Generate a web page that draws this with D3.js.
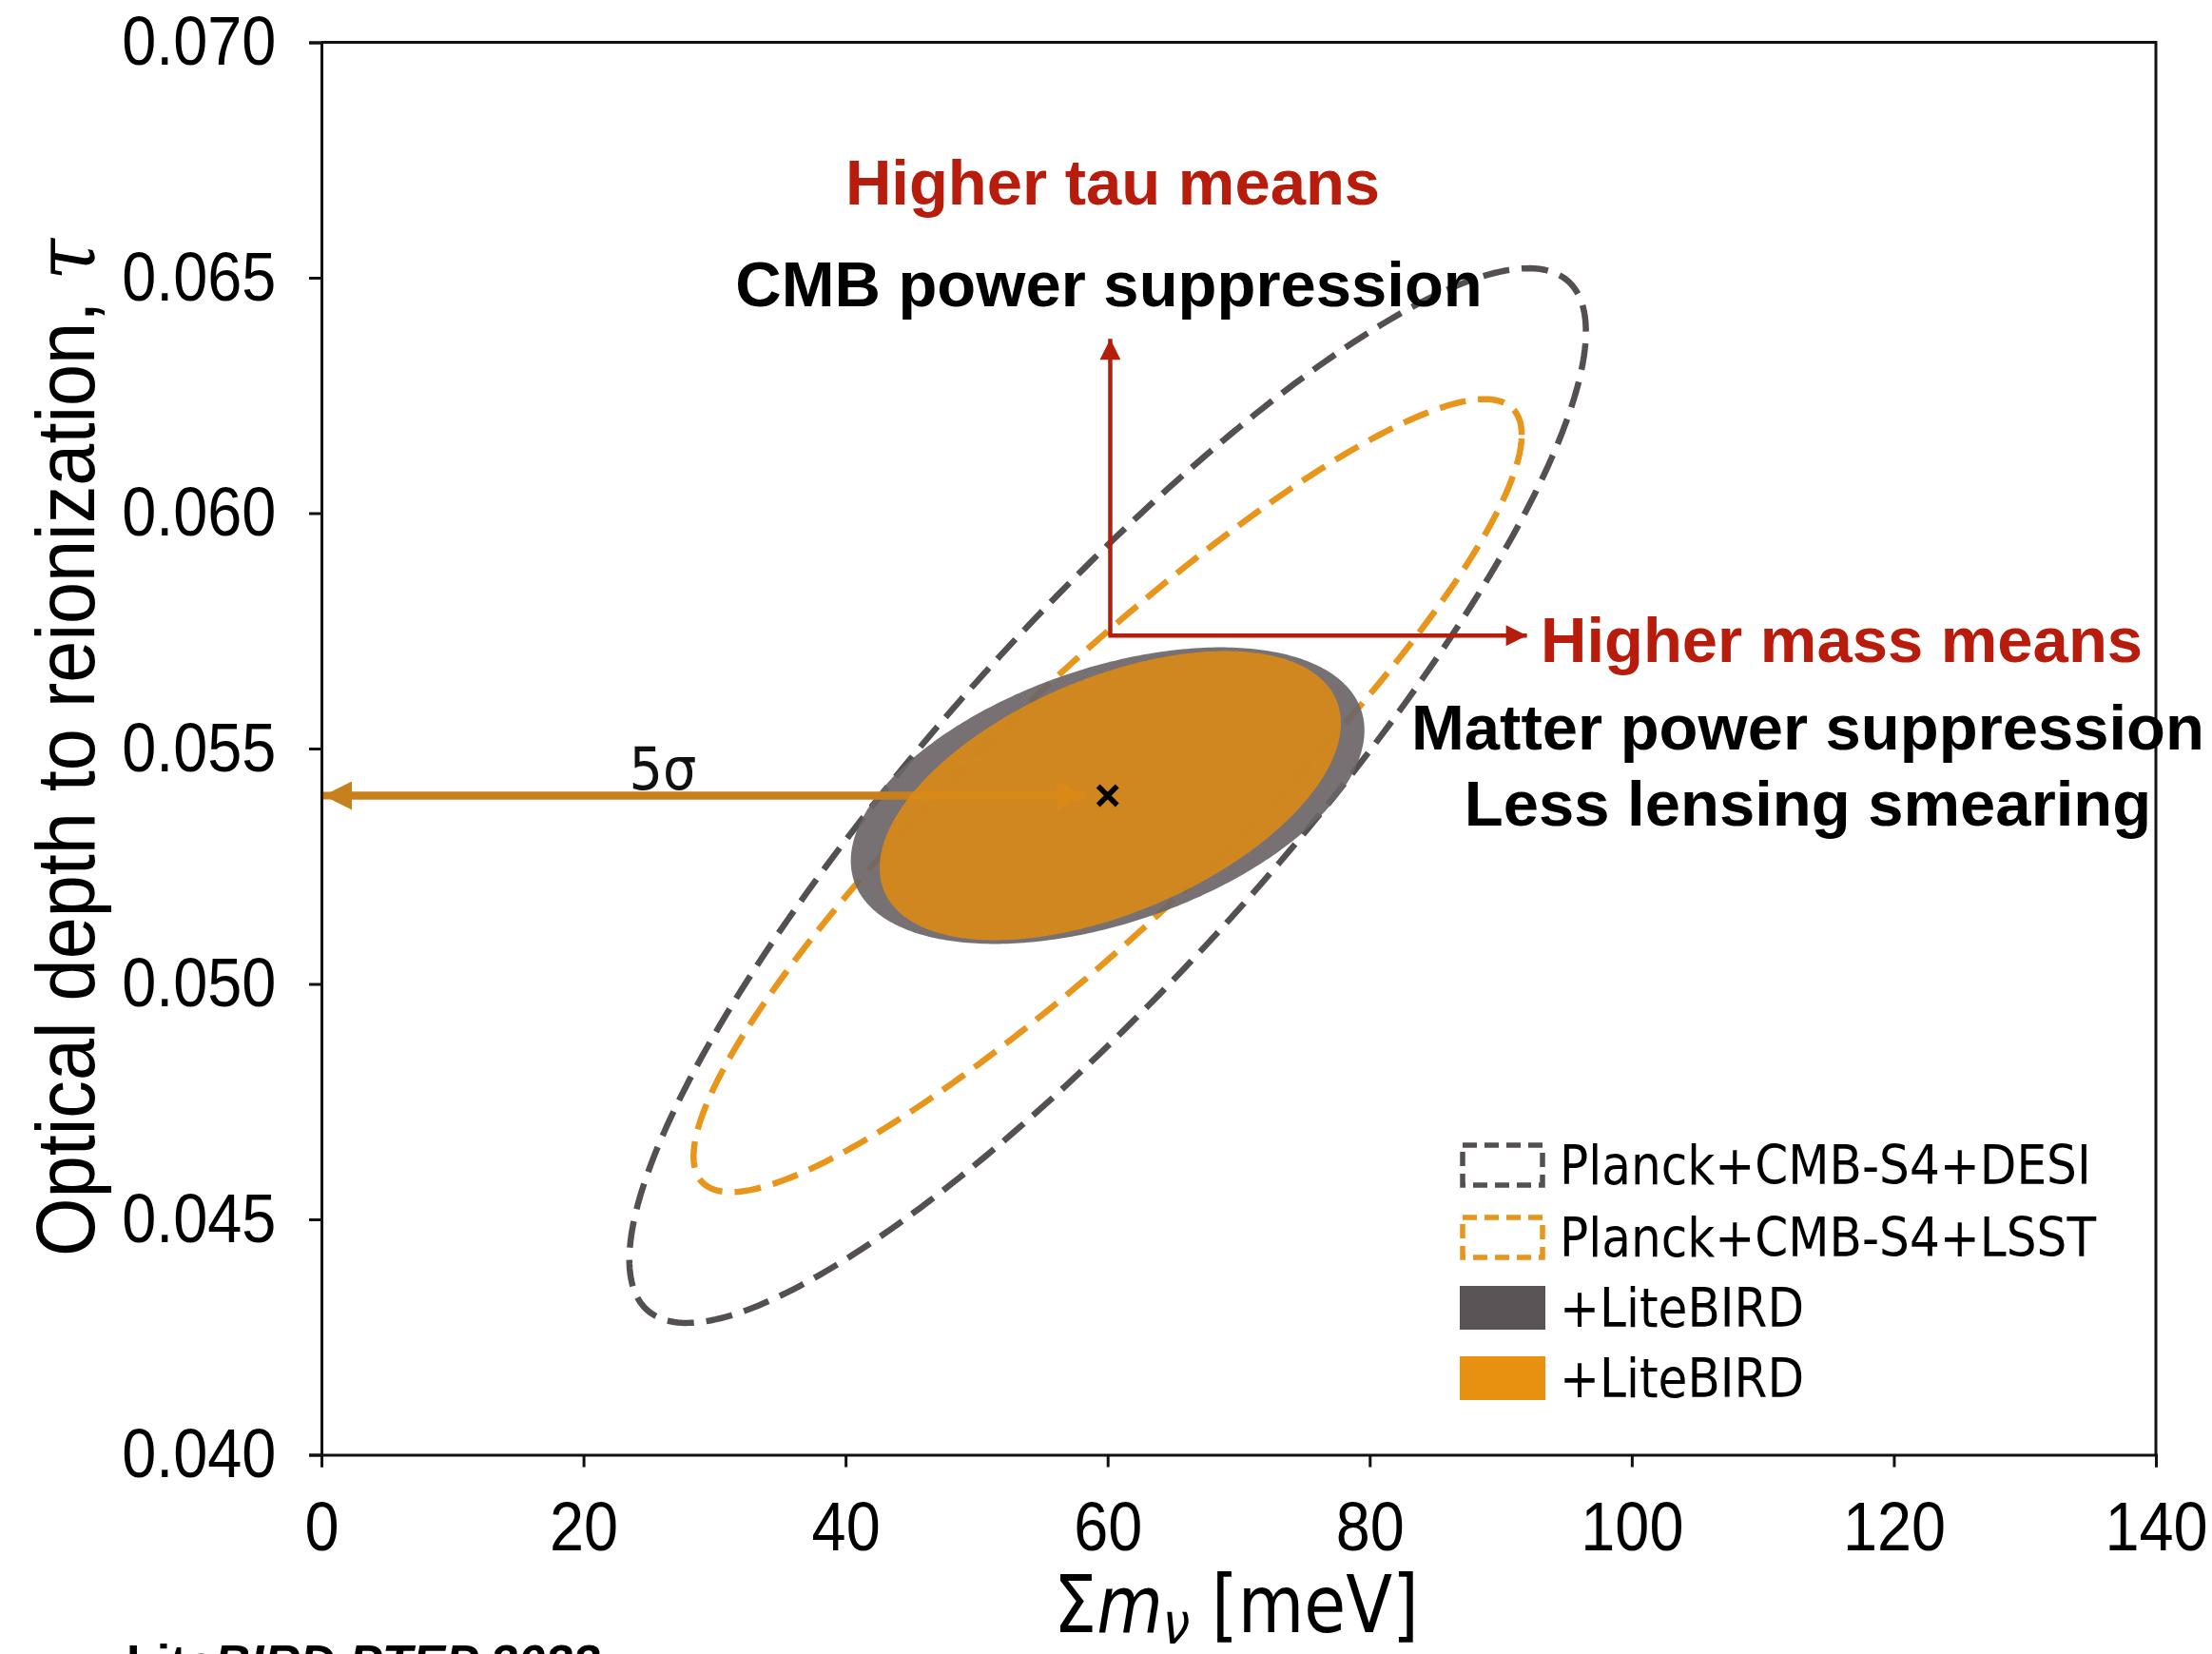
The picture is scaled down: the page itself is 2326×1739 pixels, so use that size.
<!DOCTYPE html>
<html><head><meta charset="utf-8">
<script src="https://cdn.jsdelivr.net/npm/d3@7"></script>
<style>body{margin:0;background:#fff} svg{display:block}</style>
</head><body><svg id="c" width="2326" height="1739"></svg>
<script>
// ---------- data ----------
const xTicks = [0, 20, 40, 60, 80, 100, 120, 140];
const yTicks = [0.040, 0.045, 0.050, 0.055, 0.060, 0.065, 0.070];
const xDomain = [0, 140];
const yDomain = [0.040, 0.070];
// contour ellipses: centre, half extents, correlation
const ellipseNames = ["Planck+CMB-S4+DESI", "Planck+CMB-S4+LSST", "+LiteBIRD", "+LiteBIRD"];
const ellipseCx  = [60, 60, 60, 60.2];
const ellipseCy  = [0.054, 0.054, 0.054, 0.054];
const ellipseAx  = [36.5, 31.6, 19.6, 17.6];
const ellipseAy  = [0.0112, 0.00842, 0.00315, 0.00307];
const ellipseRho = [0.88, 0.91, 0.44, 0.50];
const fiducial = [60, 0.054];
const sigmaArrow = [[58.3, 0.054], [0, 0.054]];
const tauArrow = [[60.2, 0.0574], [60.2, 0.0637]];
const massArrow = [[60.2, 0.0574], [92, 0.0574]];
const legendLabels = ["Planck+CMB-S4+DESI", "Planck+CMB-S4+LSST", "+LiteBIRD", "+LiteBIRD"];

// ---------- layout ----------
const W = 2326, H = 1739;
const m = {l: 338, r: 2267, t: 44.5, b: 1529.5};
const svg = d3.select("#c");
const x = d3.scaleLinear().domain(xDomain).range([m.l, m.r]);
const y = d3.scaleLinear().domain(yDomain).range([m.b, m.t]);

const strokeCol = ["#545052", "#e8951c"];
const fillCol = ["#6b6568", "#da8a17"];

function ellipsePts(i) {
  const phi = Math.acos(ellipseRho[i]);
  const pts = [];
  for (let k = 0; k <= 360; k++) {
    const t = k * Math.PI / 180;
    pts.push([x(ellipseCx[i] + ellipseAx[i] * Math.cos(t)),
              y(ellipseCy[i] + ellipseAy[i] * Math.cos(t - phi))]);
  }
  return pts;
}
const line = d3.line().curve(d3.curveLinearClosed);

const plot = svg.append("g");
// dashed contours
[0, 1].forEach(i => {
  plot.append("path").attr("d", line(ellipsePts(i)))
    .attr("fill", "none").attr("stroke", strokeCol[i])
    .attr("stroke-width", 6.5).attr("stroke-dasharray", "28,13");
});
// gray filled
plot.append("path").attr("d", line(ellipsePts(2)))
  .attr("fill", fillCol[0]).attr("fill-opacity", 0.92);

// 5 sigma arrow
const defs = svg.append("defs");
function marker(id, col, w, h) {
  defs.append("marker").attr("id", id).attr("viewBox", "0 0 10 10")
    .attr("refX", 10).attr("refY", 5).attr("markerUnits", "userSpaceOnUse")
    .attr("markerWidth", w).attr("markerHeight", h).attr("orient", "auto")
    .append("path").attr("d", "M0,0L10,5L0,10Z").attr("fill", col);
}
marker("ms", "#c8801e", 34, 30);
marker("mr", "#b51d0c", 24, 22);
plot.append("line")
  .attr("x1", x(sigmaArrow[0][0])).attr("y1", y(sigmaArrow[0][1]))
  .attr("x2", x(sigmaArrow[1][0]) + 2).attr("y2", y(sigmaArrow[1][1]))
  .attr("stroke", "#c8801e").attr("stroke-width", 8)
  .attr("marker-end", "url(#ms)");
plot.append("line")
  .attr("x1", x(sigmaArrow[1][0]) + 30).attr("y1", y(sigmaArrow[0][1]))
  .attr("x2", x(sigmaArrow[0][0])).attr("y2", y(sigmaArrow[0][1]))
  .attr("stroke", "#c8801e").attr("stroke-width", 8)
  .attr("marker-end", "url(#ms)");

// orange filled
plot.append("path").attr("d", line(ellipsePts(3)))
  .attr("fill", fillCol[1]).attr("fill-opacity", 0.9);

// fiducial cross
const fx = x(fiducial[0]), fy = y(fiducial[1]);
plot.append("path").attr("d", `M${fx-10},${fy-10}L${fx+10},${fy+10}M${fx-10},${fy+10}L${fx+10},${fy-10}`)
  .attr("stroke", "#000").attr("stroke-width", 5.5);

// 5 sigma label
svg.append("text").attr("x", 697).attr("y", 830)
  .attr("text-anchor", "middle").attr("font-family", "DejaVu Sans")
  .attr("font-size", 62).attr("fill", "#111")
  .attr("transform", "translate(697,0) scale(0.9,1) translate(-697,0)")
  .text("5σ");

// ---------- axes ----------
const axL = svg.append("g").attr("transform", `translate(${m.l},0)`)
  .call(d3.axisLeft(y).tickValues(yTicks).tickFormat(d3.format(".3f")).tickSize(13).tickPadding(40));
const axB = svg.append("g").attr("transform", `translate(0,${m.b})`)
  .call(d3.axisBottom(x).tickValues(xTicks).tickFormat(d3.format("d")).tickSize(13).tickPadding(36));
[axL, axB].forEach(a => {
  a.select(".domain").attr("stroke-width", 3).attr("stroke", "#111");
  a.selectAll(".tick line").attr("stroke-width", 3).attr("stroke", "#111");
  a.selectAll(".tick text").attr("font-family", "Liberation Sans, Arial, sans-serif")
    .attr("font-size", 72).attr("fill", "#000");
});
axL.selectAll(".tick text").attr("transform", "scale(0.9,1)").attr("x", -53);
axB.selectAll(".tick text").attr("transform", "scale(0.9,1)");
// frame top and right
svg.append("path").attr("d", `M${m.l},${m.t}H${m.r}V${m.b}`)
  .attr("fill", "none").attr("stroke", "#111").attr("stroke-width", 3);

// axis titles
svg.append("text")
  .attr("transform", `translate(99,786) rotate(-90)`)
  .attr("text-anchor", "middle").attr("font-family", "Liberation Sans, Arial, sans-serif")
  .attr("font-size", 88).attr("fill", "#000")
  .attr("textLength", 1070).attr("lengthAdjust", "spacingAndGlyphs")
  .html('Optical depth to reionization, <tspan font-family="DejaVu Serif" font-style="italic">τ</tspan>');

const xl = svg.append("text")
  .attr("transform", `translate(1300,1716) scale(0.85,1)`)
  .attr("text-anchor", "middle").attr("font-family", "DejaVu Sans")
  .attr("font-size", 84).attr("fill", "#000");
xl.append("tspan").text("Σ");
xl.append("tspan").attr("font-style", "italic").text("m");
xl.append("tspan").attr("font-style", "italic").attr("font-size", 60).attr("dy", 12).text("ν");
xl.append("tspan").attr("dy", -12).text(" [meV]");

// ---------- red annotation arrows ----------
svg.append("path")
  .attr("d", `M${x(tauArrow[1][0])},${y(tauArrow[0][1])}V${y(tauArrow[1][1])}`)
  .attr("stroke", "#b51d0c").attr("stroke-width", 4.5).attr("fill", "none")
  .attr("marker-end", "url(#mr)");
svg.append("path")
  .attr("d", `M${x(massArrow[0][0]) - 2},${y(massArrow[0][1])}H${x(massArrow[1][0])}`)
  .attr("stroke", "#b51d0c").attr("stroke-width", 4.5).attr("fill", "none")
  .attr("marker-end", "url(#mr)");

// ---------- annotation texts ----------
const ann = [
  {t: "Higher tau means", x: 1170, y: 215, a: "middle", c: "#b81c0c"},
  {t: "CMB power suppression", x: 1166, y: 322, a: "middle", c: "#000"},
  {t: "Higher mass means", x: 1620, y: 696, a: "start", c: "#b81c0c"},
  {t: "Matter power suppression", x: 1901, y: 788, a: "middle", c: "#000"},
  {t: "Less lensing smearing", x: 1901, y: 868, a: "middle", c: "#000"}
];
svg.selectAll(".ann").data(ann).enter().append("text")
  .attr("x", d => d.x).attr("y", d => d.y).attr("text-anchor", d => d.a)
  .attr("font-family", "Liberation Sans, Arial, sans-serif").attr("font-weight", "bold")
  .attr("font-size", 67).attr("fill", d => d.c).text(d => d.t);

// ---------- legend ----------
const lg = svg.append("g");
const rowY = [1225, 1301, 1375, 1449];
legendLabels.forEach((lab, i) => {
  const yy = rowY[i];
  if (i < 2) {
    lg.append("rect").attr("x", 1538).attr("y", yy - 21).attr("width", 84).attr("height", 42)
      .attr("fill", "#fff").attr("stroke", strokeCol[i]).attr("stroke-width", 5.5)
      .attr("stroke-dasharray", "15,8");
  } else {
    lg.append("rect").attr("x", 1535).attr("y", yy - 23).attr("width", 90).attr("height", 46)
      .attr("fill", i === 2 ? "#5a5457" : "#e8900f");
  }
  lg.append("text").attr("transform", `translate(1640,${yy + 20}) scale(0.88,1)`)
    .attr("font-family", "DejaVu Sans").attr("font-size", 57).attr("fill", "#000").text(lab);
});

// ---------- source note ----------
svg.append("text").attr("x", 133).attr("y", 1766)
  .attr("font-family", "Liberation Sans, Arial, sans-serif").attr("font-size", 52)
  .attr("font-weight", "bold").attr("fill", "#000")
  .html('Lite<tspan font-style="italic">BIRD PTEP 2022</tspan>');
</script></body></html>
